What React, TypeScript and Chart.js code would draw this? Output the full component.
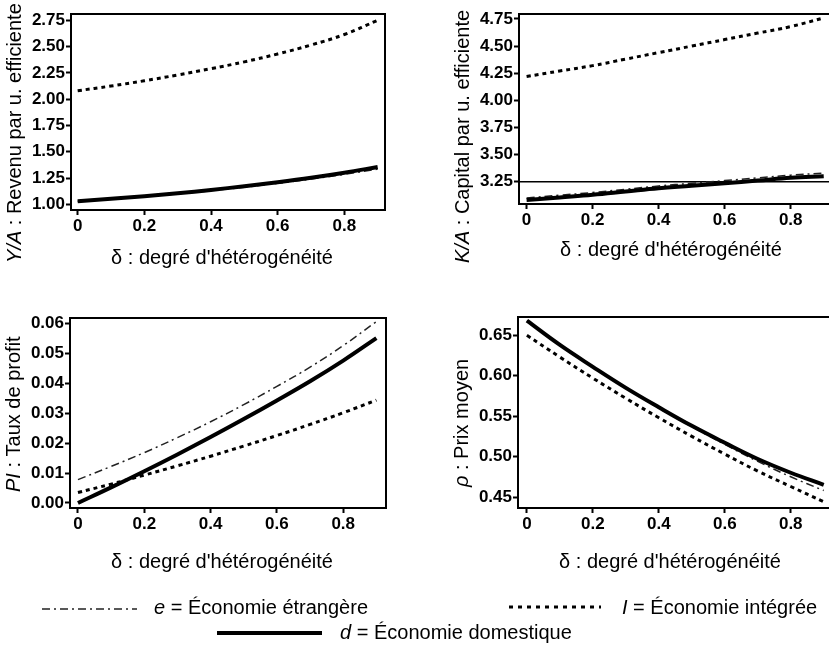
import React, { useEffect, useRef } from 'react';
import { Chart, registerables } from 'chart.js';

Chart.register(...registerables);

// ---------- DATA ----------
const DELTA = [0, 0.1, 0.2, 0.3, 0.4, 0.5, 0.6, 0.7, 0.8, 0.9];

// Y/A : revenu par unité efficiente
const YA_E = [1.03, 1.05, 1.073, 1.10, 1.13, 1.163, 1.20, 1.24, 1.285, 1.335];
const YA_I = [2.08, 2.125, 2.175, 2.23, 2.29, 2.355, 2.43, 2.515, 2.615, 2.75];
const YA_D = [1.03, 1.052, 1.077, 1.105, 1.137, 1.172, 1.21, 1.252, 1.30, 1.355];

// K/A : capital par unité efficiente
const KA_E = [3.10, 3.125, 3.15, 3.18, 3.21, 3.235, 3.26, 3.285, 3.31, 3.33];
const KA_I = [4.22, 4.27, 4.32, 4.38, 4.44, 4.50, 4.56, 4.62, 4.68, 4.76];
const KA_D = [3.08, 3.105, 3.13, 3.16, 3.19, 3.212, 3.236, 3.26, 3.285, 3.30];
const KA_REF = 3.25;

// PI : taux de profit
const PI_E = [0.0078, 0.0122, 0.0168, 0.0218, 0.0271, 0.0328, 0.0389, 0.0453, 0.0525, 0.0605];
const PI_I = [0.0035, 0.0063, 0.0093, 0.0124, 0.0156, 0.019, 0.0225, 0.0262, 0.0301, 0.0343];
const PI_D = [0.0, 0.0052, 0.0106, 0.0162, 0.022, 0.028, 0.0342, 0.0406, 0.0475, 0.055];

// p : prix moyen
const P_E = [0.668, 0.638, 0.611, 0.585, 0.560, 0.537, 0.515, 0.494, 0.475, 0.458];
const P_I = [0.650, 0.623, 0.597, 0.572, 0.548, 0.525, 0.503, 0.482, 0.463, 0.444];
const P_D = [0.668, 0.638, 0.611, 0.585, 0.561, 0.538, 0.517, 0.497, 0.480, 0.465];

// ticks
const X_TICKS = [0, 0.2, 0.4, 0.6, 0.8];
const X_TICK_LABELS = ['0', '0.2', '0.4', '0.6', '0.8'];
const YA_TICKS = [1.0, 1.25, 1.5, 1.75, 2.0, 2.25, 2.5, 2.75];
const YA_TICK_LABELS = ['1.00', '1.25', '1.50', '1.75', '2.00', '2.25', '2.50', '2.75'];
const KA_TICKS = [3.25, 3.5, 3.75, 4.0, 4.25, 4.5, 4.75];
const KA_TICK_LABELS = ['3.25', '3.50', '3.75', '4.00', '4.25', '4.50', '4.75'];
const PI_TICKS = [0, 0.01, 0.02, 0.03, 0.04, 0.05, 0.06];
const PI_TICK_LABELS = ['0.00', '0.01', '0.02', '0.03', '0.04', '0.05', '0.06'];
const P_TICKS = [0.45, 0.5, 0.55, 0.6, 0.65];
const P_TICK_LABELS = ['0.45', '0.50', '0.55', '0.60', '0.65'];

const X_TITLE = "δ : degré d'hétérogénéité";
const LEGEND_E = ['e', ' = Économie étrangère'];
const LEGEND_I = ['I', ' = Économie intégrée'];
const LEGEND_D = ['d', ' = Économie domestique'];

// ---------- STYLE ----------
const FONT = '"Liberation Sans", Arial, Helvetica, sans-serif';
const STYLE_E = { color: '#222', width: 1.5, dash: [8, 4, 2, 4] };
const STYLE_I = { color: '#000', width: 3, dash: [4, 4] };
const STYLE_D = { color: '#000', width: 4, dash: [] as number[] };

type Panel = {
  left: number; top: number; width: number; height: number;
  pad: { left: number; top: number; right: number; bottom: number };
  yWidth: number; xHeight: number;
  xMin: number; xMax: number; yMin: number; yMax: number;
  yTicks: number[]; yLabels: string[];
  e: number[]; i: number[]; d: number[];
  refY?: number;
  yTitle: [string, string]; yTitleX: number; yTitleBottom: number;
  xTitleX: number; xTitleY: number;
};

const PANELS: Panel[] = [
  {
    left: 0, top: 0, width: 400, height: 280,
    pad: { left: 0, top: 14, right: 15, bottom: 0 }, yWidth: 71, xHeight: 70,
    xMin: -0.02, xMax: 0.922, yMin: 0.946, yMax: 2.81,
    yTicks: YA_TICKS, yLabels: YA_TICK_LABELS,
    e: YA_E, i: YA_I, d: YA_D,
    yTitle: ['Y/A', ' : Revenu par u. efficiente'], yTitleX: 15, yTitleBottom: 263,
    xTitleX: 222, xTitleY: 258,
  },
  {
    left: 410, top: 0, width: 430, height: 280,
    pad: { left: 0, top: 14, right: 10, bottom: 0 }, yWidth: 109, xHeight: 76,
    xMin: -0.023, xMax: 0.919, yMin: 3.044, yMax: 4.796,
    yTicks: KA_TICKS, yLabels: KA_TICK_LABELS,
    e: KA_E, i: KA_I, d: KA_D, refY: KA_REF,
    yTitle: ['K/A', ' : Capital par u. efficiente'], yTitleX: 53, yTitleBottom: 263,
    xTitleX: 261, xTitleY: 250,
  },
  {
    left: 0, top: 290, width: 400, height: 290,
    pad: { left: 0, top: 28, right: 14, bottom: 0 }, yWidth: 70, xHeight: 72,
    xMin: -0.024, xMax: 0.929, yMin: -0.00167, yMax: 0.0617,
    yTicks: PI_TICKS, yLabels: PI_TICK_LABELS,
    e: PI_E, i: PI_I, d: PI_D,
    yTitle: ['PI', ' : Taux de profit'], yTitleX: 14, yTitleBottom: 202,
    xTitleX: 222, xTitleY: 272,
  },
  {
    left: 410, top: 290, width: 430, height: 290,
    pad: { left: 0, top: 27, right: 10, bottom: 0 }, yWidth: 108, xHeight: 72,
    xMin: -0.027, xMax: 0.919, yMin: 0.4364, yMax: 0.6726,
    yTicks: P_TICKS, yLabels: P_TICK_LABELS,
    e: P_E, i: P_I, d: P_D,
    yTitle: ['ρ', ' : Prix moyen'], yTitleX: 52, yTitleBottom: 197,
    xTitleX: 260, xTitleY: 272,
  },
];

const decorPlugin = {
  id: 'decor',
  beforeDatasetsDraw(chart: any, _a: any, opts: any) {
    if (opts.refY === undefined || opts.refY === null) return;
    const { ctx, chartArea } = chart;
    const y = chart.scales.y.getPixelForValue(opts.refY);
    ctx.save();
    ctx.strokeStyle = '#000';
    ctx.lineWidth = 1.5;
    ctx.beginPath();
    ctx.moveTo(chartArea.left, y);
    ctx.lineTo(chartArea.right, y);
    ctx.stroke();
    ctx.restore();
  },
  afterDraw(chart: any, _a: any, opts: any) {
    const { ctx, chartArea } = chart;
    ctx.save();
    ctx.strokeStyle = '#000';
    ctx.lineWidth = 2;
    ctx.strokeRect(chartArea.left, chartArea.top, chartArea.right - chartArea.left, chartArea.bottom - chartArea.top);
    // x title
    ctx.fillStyle = '#000';
    ctx.font = `20px ${FONT}`;
    ctx.textAlign = 'center';
    ctx.textBaseline = 'middle';
    ctx.fillText(opts.xTitle, opts.xTitleX, opts.xTitleY);
    // y title (mixed italic / regular), rotated
    ctx.translate(opts.yTitleX, opts.yTitleBottom);
    ctx.rotate(-Math.PI / 2);
    ctx.textAlign = 'left';
    let x = 0;
    ctx.font = `italic 20px ${FONT}`;
    ctx.fillText(opts.yTitle[0], x, 0);
    x += ctx.measureText(opts.yTitle[0]).width;
    ctx.font = `20px ${FONT}`;
    ctx.fillText(opts.yTitle[1], x, 0);
    ctx.restore();
  },
};

function ds(label: string, ys: number[], st: { color: string; width: number; dash: number[] }) {
  return {
    label,
    data: DELTA.map((x, k) => ({ x, y: ys[k] })),
    borderColor: st.color,
    borderWidth: st.width,
    borderDash: st.dash,
    borderCapStyle: 'butt' as const,
    pointRadius: 0,
    fill: false,
    tension: 0.4,
  };
}

function PanelChart({ p }: { p: Panel }) {
  const ref = useRef<HTMLCanvasElement | null>(null);
  useEffect(() => {
    if (!ref.current) return;
    const tickFont = { family: FONT, size: 17, weight: 'bold' as const };
    const chart = new Chart(ref.current, {
      type: 'line',
      data: {
        datasets: [ds('d', p.d, STYLE_D), ds('I', p.i, STYLE_I), ds('e', p.e, STYLE_E)],
      },
      options: {
        responsive: false,
        animation: false,
        layout: { padding: p.pad },
        plugins: {
          legend: { display: false },
          tooltip: { enabled: false },
          decor: {
            refY: p.refY,
            xTitle: X_TITLE, xTitleX: p.xTitleX, xTitleY: p.xTitleY,
            yTitle: p.yTitle, yTitleX: p.yTitleX, yTitleBottom: p.yTitleBottom,
          },
        } as any,
        scales: {
          x: {
            type: 'linear',
            min: p.xMin, max: p.xMax, bounds: 'data',
            afterBuildTicks: (s: any) => { s.ticks = X_TICKS.map((v) => ({ value: v })); },
            afterFit: (s: any) => { s.height = p.xHeight; },
            ticks: {
              callback: (_v: any, idx: number) => X_TICK_LABELS[idx],
              font: tickFont, color: '#000', padding: 1, maxRotation: 0, autoSkip: false,
            },
            grid: { display: true, drawOnChartArea: false, drawTicks: true, tickLength: 5, tickWidth: 2, tickColor: '#000' },
            border: { display: false },
          },
          y: {
            type: 'linear',
            min: p.yMin, max: p.yMax, bounds: 'data',
            afterBuildTicks: (s: any) => { s.ticks = p.yTicks.map((v) => ({ value: v })); },
            afterFit: (s: any) => { s.width = p.yWidth; },
            ticks: {
              callback: (_v: any, idx: number) => p.yLabels[idx],
              font: tickFont, color: '#000', padding: 1, autoSkip: false,
            },
            grid: { display: true, drawOnChartArea: false, drawTicks: true, tickLength: 5, tickWidth: 2, tickColor: '#000' },
            border: { display: false },
          },
        },
      } as any,
      plugins: [decorPlugin as any],
    });
    return () => chart.destroy();
  }, [p]);
  return (
    <canvas
      ref={ref}
      width={p.width}
      height={p.height}
      style={{ position: 'absolute', left: p.left, top: p.top, width: p.width, height: p.height }}
    />
  );
}

function LegendText({ parts, left, top }: { parts: string[]; left: number; top: number }) {
  return (
    <div
      style={{
        position: 'absolute', left, top, transform: 'translateY(-50%)',
        font: `20px ${FONT}`, lineHeight: '22px', whiteSpace: 'nowrap', color: '#000',
      }}
    >
      <i>{parts[0]}</i>{parts[1]}
    </div>
  );
}

export default function App() {
  return (
    <div
      style={{
        position: 'absolute', left: 0, top: 0, width: 829, height: 651,
        overflow: 'hidden', background: '#fff',
      }}
    >
      {PANELS.map((p, k) => <PanelChart key={k} p={p} />)}
      <svg width={829} height={651} style={{ position: 'absolute', left: 0, top: 0, pointerEvents: 'none' }}>
        <line x1={42} y1={609} x2={137} y2={609} stroke={STYLE_E.color} strokeWidth={STYLE_E.width} strokeDasharray={STYLE_E.dash.join(' ')} />
        <line x1={509} y1={607} x2={601} y2={607} stroke={STYLE_I.color} strokeWidth={STYLE_I.width} strokeDasharray="4 5" />
        <line x1={217} y1={633} x2={322} y2={633} stroke={STYLE_D.color} strokeWidth={STYLE_D.width} />
      </svg>
      <LegendText parts={LEGEND_E} left={154} top={607} />
      <LegendText parts={LEGEND_I} left={622} top={607} />
      <LegendText parts={LEGEND_D} left={340} top={632} />
    </div>
  );
}
